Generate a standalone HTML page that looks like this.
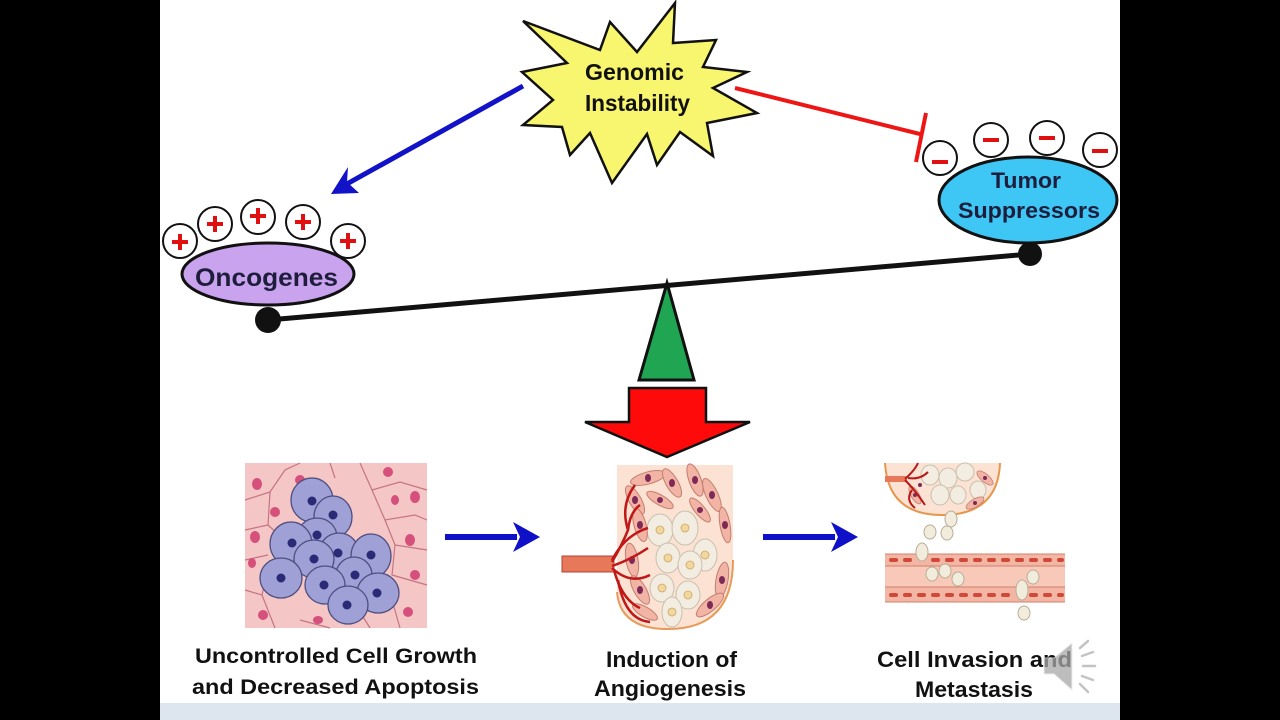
<!DOCTYPE html>
<html>
<head>
<meta charset="utf-8">
<style>
html,body{margin:0;padding:0;background:#000;}
svg{display:block;}
text{font-family:"Liberation Sans",Arial,sans-serif;font-weight:bold;}
</style>
</head>
<body>
<svg width="1280" height="720" viewBox="0 0 1280 720" xmlns="http://www.w3.org/2000/svg">
<rect x="0" y="0" width="1280" height="720" fill="#000"/>
<rect x="160" y="0" width="960" height="720" fill="#fff"/>
<rect x="160" y="703" width="960" height="17" fill="#dde5ee"/>

<!-- blue diagonal arrow -->
<line x1="523" y1="86" x2="345" y2="185" stroke="#1212c8" stroke-width="5"/>
<polygon points="331,194 348,167 347,182 359,193" fill="#1212c8"/>

<!-- red inhibit line -->
<line x1="735" y1="88" x2="920" y2="134" stroke="#ee1515" stroke-width="4"/>
<line x1="926" y1="113" x2="916" y2="162" stroke="#ee1515" stroke-width="4"/>

<!-- star -->
<polygon points="675,3 673,43 716,40 703,67 747,72 713,88 757,113 707,123 713,156 680,132 657,165 647,134 612,183 590,133 570,155 562,127 523,125 553,100 522,72 567,63 523,21 600,50 610,22 637,52" fill="#f8f56e" stroke="#111" stroke-width="2.5" stroke-linejoin="miter"/>
<text x="585" y="80" font-size="23" textLength="99" lengthAdjust="spacingAndGlyphs" fill="#111">Genomic</text>
<text x="585" y="111" font-size="23" textLength="105" lengthAdjust="spacingAndGlyphs" fill="#111">Instability</text>

<!-- beam -->
<line x1="268" y1="320" x2="1030" y2="254" stroke="#111" stroke-width="5"/>
<circle cx="268" cy="320" r="13" fill="#111"/>
<circle cx="1030" cy="254" r="12" fill="#111"/>

<!-- Oncogenes -->
<ellipse cx="268" cy="274" rx="86" ry="31" fill="#c9a3ee" stroke="#111" stroke-width="3"/>
<text x="195" y="286" font-size="25" textLength="143" lengthAdjust="spacingAndGlyphs" fill="#1e1e3c">Oncogenes</text>
<g fill="#fff" stroke="#111" stroke-width="2">
<circle cx="180" cy="241" r="17"/>
<circle cx="215" cy="224" r="17"/>
<circle cx="258" cy="217" r="17"/>
<circle cx="303" cy="222" r="17"/>
<circle cx="348" cy="241" r="17"/>
</g>
<g stroke="#e01010" stroke-width="4">
<line x1="172" y1="242" x2="188" y2="242"/><line x1="180" y1="234" x2="180" y2="250"/>
<line x1="207" y1="224" x2="223" y2="224"/><line x1="215" y1="216" x2="215" y2="232"/>
<line x1="250" y1="216" x2="266" y2="216"/><line x1="258" y1="208" x2="258" y2="224"/>
<line x1="295" y1="222" x2="311" y2="222"/><line x1="303" y1="214" x2="303" y2="230"/>
<line x1="340" y1="241" x2="356" y2="241"/><line x1="348" y1="233" x2="348" y2="249"/>
</g>

<!-- Tumor suppressors -->
<g fill="#fff" stroke="#111" stroke-width="2">
<circle cx="940" cy="158" r="17"/>
<circle cx="991" cy="140" r="17"/>
<circle cx="1047" cy="138" r="17"/>
<circle cx="1100" cy="150" r="17"/>
</g>
<ellipse cx="1028" cy="200" rx="89" ry="43" fill="#3ec6f5" stroke="#111" stroke-width="3"/>
<g stroke="#e01010" stroke-width="4">
<line x1="932" y1="162" x2="948" y2="162"/>
<line x1="983" y1="140" x2="999" y2="140"/>
<line x1="1039" y1="138" x2="1055" y2="138"/>
<line x1="1092" y1="151" x2="1108" y2="151"/>
</g>
<text x="991" y="188" font-size="22" textLength="70" lengthAdjust="spacingAndGlyphs" fill="#1e1e3c">Tumor</text>
<text x="958" y="218" font-size="22" textLength="142" lengthAdjust="spacingAndGlyphs" fill="#1e1e3c">Suppressors</text>

<!-- green triangle -->
<polygon points="667,283 639,380 694,380" fill="#20a653" stroke="#111" stroke-width="3" stroke-linejoin="miter"/>
<!-- red arrow -->
<polygon points="629,388 706,388 706,422 750,422 667,457 585,422 629,422" fill="#ff0a0a" stroke="#111" stroke-width="2.5"/>

<!-- Image 1: cells -->
<g>
<rect x="245" y="463" width="182" height="165" fill="#f5c6c6"/>
<g fill="none" stroke="#c57482" stroke-width="1.2">
<path d="M245,500 L270,492 L285,470 L300,463"/>
<path d="M270,492 L268,525 L245,530"/>
<path d="M268,525 L290,545"/>
<path d="M245,590 L262,595 L275,628"/>
<path d="M262,595 L270,560"/>
<path d="M360,463 L372,490 L400,482 L427,490"/>
<path d="M372,490 L385,520 L415,515 L427,520"/>
<path d="M385,520 L395,545 L427,550"/>
<path d="M395,545 L392,575 L427,585"/>
<path d="M392,600 L400,628"/>
<path d="M330,463 L335,478"/>
<path d="M300,620 L330,628"/>
<path d="M360,612 L370,628"/>
<path d="M245,560 L268,555"/>
</g>
<g fill="#d6507c">
<ellipse cx="257" cy="484" rx="5" ry="6"/>
<ellipse cx="300" cy="480" rx="5" ry="5"/>
<ellipse cx="388" cy="472" rx="5" ry="5"/>
<ellipse cx="415" cy="497" rx="5" ry="6"/>
<ellipse cx="275" cy="512" rx="5" ry="5"/>
<ellipse cx="255" cy="537" rx="5" ry="6"/>
<ellipse cx="410" cy="540" rx="5" ry="6"/>
<ellipse cx="415" cy="575" rx="5" ry="5"/>
<ellipse cx="252" cy="563" rx="4" ry="5"/>
<ellipse cx="263" cy="615" rx="5" ry="5"/>
<ellipse cx="318" cy="620" rx="5" ry="4"/>
<ellipse cx="408" cy="612" rx="5" ry="5"/>
<ellipse cx="395" cy="500" rx="4" ry="5"/>
</g>
<g fill="#9ea0d6" stroke="#4e4e80" stroke-width="1.3">
<ellipse cx="312" cy="500" rx="21" ry="22"/>
<ellipse cx="333" cy="517" rx="19" ry="21"/>
<ellipse cx="317" cy="537" rx="20" ry="19"/>
<ellipse cx="291" cy="544" rx="21" ry="22"/>
<ellipse cx="339" cy="553" rx="20" ry="20"/>
<ellipse cx="314" cy="559" rx="20" ry="19"/>
<ellipse cx="371" cy="556" rx="20" ry="22"/>
<ellipse cx="354" cy="575" rx="18" ry="18"/>
<ellipse cx="281" cy="578" rx="21" ry="20"/>
<ellipse cx="325" cy="585" rx="20" ry="19"/>
<ellipse cx="378" cy="593" rx="21" ry="20"/>
<ellipse cx="348" cy="605" rx="20" ry="19"/>
</g>
<g fill="#2a2a76">
<circle cx="312" cy="501" r="4.5"/>
<circle cx="333" cy="515" r="4.5"/>
<circle cx="317" cy="535" r="4.5"/>
<circle cx="292" cy="543" r="4.5"/>
<circle cx="338" cy="553" r="4.5"/>
<circle cx="314" cy="559" r="4.5"/>
<circle cx="371" cy="555" r="4.5"/>
<circle cx="355" cy="575" r="4.5"/>
<circle cx="281" cy="578" r="4.5"/>
<circle cx="324" cy="585" r="4.5"/>
<circle cx="377" cy="593" r="4.5"/>
<circle cx="347" cy="605" r="4.5"/>
</g>
</g>

<!-- Image 2: angiogenesis -->
<g>
<path d="M617,465 L733,465 L733,560 Q733,629 668,629 Q620,629 617,592 Z" fill="#fbe2d2"/>
<path d="M617,592 Q620,629 668,629 Q733,629 733,560" fill="none" stroke="#e89a5a" stroke-width="2"/>
<g fill="#f3ece0" stroke="#c9bfae" stroke-width="1">
<ellipse cx="660" cy="530" rx="13" ry="16"/>
<ellipse cx="685" cy="528" rx="13" ry="17"/>
<ellipse cx="705" cy="555" rx="12" ry="16"/>
<ellipse cx="668" cy="558" rx="12" ry="15"/>
<ellipse cx="690" cy="565" rx="12" ry="14"/>
<ellipse cx="662" cy="588" rx="12" ry="14"/>
<ellipse cx="688" cy="595" rx="12" ry="14"/>
<ellipse cx="672" cy="612" rx="10" ry="15"/>
</g>
<g fill="#f3d69c" stroke="#c8a870" stroke-width="0.8">
<circle cx="660" cy="530" r="4"/><circle cx="685" cy="528" r="4"/><circle cx="705" cy="555" r="4"/>
<circle cx="668" cy="558" r="4"/><circle cx="690" cy="565" r="4"/><circle cx="662" cy="588" r="4"/>
<circle cx="688" cy="595" r="4"/><circle cx="672" cy="612" r="4"/>
</g>
<g fill="#f2b4a4" stroke="#c47e70" stroke-width="1">
<ellipse cx="648" cy="478" rx="18" ry="6" transform="rotate(-15 648 478)"/>
<ellipse cx="672" cy="483" rx="16" ry="6" transform="rotate(60 672 483)"/>
<ellipse cx="695" cy="480" rx="17" ry="6" transform="rotate(70 695 480)"/>
<ellipse cx="712" cy="495" rx="18" ry="6" transform="rotate(65 712 495)"/>
<ellipse cx="725" cy="525" rx="18" ry="5" transform="rotate(80 725 525)"/>
<ellipse cx="635" cy="500" rx="16" ry="6" transform="rotate(60 635 500)"/>
<ellipse cx="640" cy="525" rx="17" ry="6" transform="rotate(75 640 525)"/>
<ellipse cx="632" cy="560" rx="17" ry="6" transform="rotate(80 632 560)"/>
<ellipse cx="640" cy="590" rx="16" ry="6" transform="rotate(60 640 590)"/>
<ellipse cx="722" cy="580" rx="18" ry="6" transform="rotate(100 722 580)"/>
<ellipse cx="710" cy="605" rx="17" ry="6" transform="rotate(140 710 605)"/>
<ellipse cx="660" cy="500" rx="15" ry="5" transform="rotate(30 660 500)"/>
<ellipse cx="700" cy="510" rx="15" ry="5" transform="rotate(50 700 510)"/>
<ellipse cx="645" cy="612" rx="14" ry="5" transform="rotate(30 645 612)"/>
</g>
<g fill="#7e2a58">
<ellipse cx="648" cy="478" rx="3" ry="4"/><ellipse cx="672" cy="483" rx="3" ry="4"/>
<ellipse cx="695" cy="480" rx="3" ry="4"/><ellipse cx="712" cy="495" rx="3" ry="4"/>
<ellipse cx="725" cy="525" rx="3" ry="4"/><ellipse cx="635" cy="500" rx="3" ry="4"/>
<ellipse cx="640" cy="525" rx="3" ry="4"/><ellipse cx="632" cy="560" rx="3" ry="4"/>
<ellipse cx="640" cy="590" rx="3" ry="4"/><ellipse cx="722" cy="580" rx="3" ry="4"/>
<ellipse cx="710" cy="605" rx="3" ry="4"/><ellipse cx="660" cy="500" rx="3" ry="3"/>
<ellipse cx="700" cy="510" rx="3" ry="3"/>
</g>
<rect x="562" y="556" width="52" height="16" fill="#e8785a" stroke="#b04530" stroke-width="1"/>
<g fill="none" stroke="#c01818" stroke-width="2.5">
<path d="M612,562 Q622,545 628,530 Q630,512 640,505"/>
<path d="M628,530 Q620,505 635,485"/>
<path d="M612,566 Q630,560 648,548"/>
<path d="M612,568 Q630,585 650,575"/>
<path d="M614,570 Q622,600 640,608"/>
<path d="M618,580 Q625,620 650,622"/>
<path d="M612,560 Q625,535 648,528"/>
</g>
</g>

<!-- Image 3: invasion -->
<g>
<path d="M885,463 L1000,463 Q998,515 942,515 Q888,515 885,463 Z" fill="#fbe2d2"/>
<path d="M1000,463 Q998,515 942,515 Q888,515 885,463" fill="none" stroke="#e8964e" stroke-width="2"/>
<g fill="#f3ece0" stroke="#c9bfae" stroke-width="1">
<ellipse cx="930" cy="475" rx="9" ry="10"/><ellipse cx="948" cy="478" rx="9" ry="10"/>
<ellipse cx="965" cy="472" rx="9" ry="9"/><ellipse cx="940" cy="495" rx="9" ry="10"/>
<ellipse cx="958" cy="495" rx="8" ry="9"/><ellipse cx="978" cy="490" rx="8" ry="9"/>
</g>
<g fill="#f2b4a4" stroke="#c47e70" stroke-width="0.8">
<ellipse cx="985" cy="478" rx="10" ry="4" transform="rotate(40 985 478)"/>
<ellipse cx="915" cy="495" rx="10" ry="4" transform="rotate(60 915 495)"/>
<ellipse cx="975" cy="503" rx="10" ry="4" transform="rotate(-30 975 503)"/>
</g>
<g fill="#7e2a58"><circle cx="985" cy="478" r="2"/><circle cx="915" cy="495" r="2"/><circle cx="920" cy="485" r="2"/><circle cx="975" cy="503" r="2"/></g>
<rect x="885" y="476" width="22" height="6" fill="#e8785a"/>
<g fill="none" stroke="#b81818" stroke-width="2">
<path d="M905,479 Q915,470 918,463"/><path d="M905,480 Q915,490 925,505"/><path d="M908,478 Q920,480 928,472"/><path d="M912,490 Q905,500 915,508"/>
</g>
<!-- vessel -->
<rect x="885" y="554" width="180" height="48" fill="#f4b6a4"/>
<rect x="885" y="566" width="180" height="21" fill="#f8c9b8"/>
<g stroke="#d0806c" stroke-width="1">
<line x1="885" y1="554" x2="1065" y2="554"/><line x1="885" y1="566" x2="1065" y2="566"/>
<line x1="885" y1="587" x2="1065" y2="587"/><line x1="885" y1="602" x2="1065" y2="602"/>
</g>
<g fill="#d04838">
<rect x="889" y="558" width="9" height="4" rx="2"/><rect x="903" y="558" width="9" height="4" rx="2"/>
<rect x="931" y="558" width="9" height="4" rx="2"/><rect x="945" y="558" width="9" height="4" rx="2"/>
<rect x="959" y="558" width="9" height="4" rx="2"/><rect x="973" y="558" width="9" height="4" rx="2"/>
<rect x="987" y="558" width="9" height="4" rx="2"/><rect x="1001" y="558" width="9" height="4" rx="2"/>
<rect x="1015" y="558" width="9" height="4" rx="2"/><rect x="1029" y="558" width="9" height="4" rx="2"/>
<rect x="1043" y="558" width="9" height="4" rx="2"/><rect x="1057" y="558" width="7" height="4" rx="2"/>
<rect x="889" y="593" width="9" height="4" rx="2"/><rect x="903" y="593" width="9" height="4" rx="2"/>
<rect x="917" y="593" width="9" height="4" rx="2"/><rect x="931" y="593" width="9" height="4" rx="2"/>
<rect x="945" y="593" width="9" height="4" rx="2"/><rect x="959" y="593" width="9" height="4" rx="2"/>
<rect x="973" y="593" width="9" height="4" rx="2"/><rect x="987" y="593" width="9" height="4" rx="2"/>
<rect x="1001" y="593" width="9" height="4" rx="2"/><rect x="1029" y="593" width="9" height="4" rx="2"/>
<rect x="1043" y="593" width="9" height="4" rx="2"/><rect x="1057" y="593" width="7" height="4" rx="2"/>
</g>
<g fill="#f1ecdc" stroke="#b8ad98" stroke-width="1">
<ellipse cx="951" cy="519" rx="6" ry="8"/><ellipse cx="930" cy="532" rx="6" ry="7"/>
<ellipse cx="947" cy="533" rx="6" ry="7"/><ellipse cx="922" cy="552" rx="6" ry="9"/>
<ellipse cx="932" cy="574" rx="6" ry="7"/><ellipse cx="945" cy="571" rx="6" ry="7"/>
<ellipse cx="958" cy="579" rx="6" ry="7"/><ellipse cx="1033" cy="577" rx="6" ry="7"/>
<ellipse cx="1022" cy="590" rx="6" ry="10"/><ellipse cx="1024" cy="613" rx="6" ry="7"/>
</g>
</g>

<!-- horizontal blue arrows -->
<rect x="445" y="534" width="72" height="6" fill="#1010c8"/>
<polygon points="540,537 513,522 520,537 513,552" fill="#1010c8"/>
<rect x="763" y="534" width="72" height="6" fill="#1010c8"/>
<polygon points="858,537 831,522 838,537 831,552" fill="#1010c8"/>

<!-- bottom labels -->
<g fill="#111">
<text x="195" y="663" font-size="21" textLength="282" lengthAdjust="spacingAndGlyphs">Uncontrolled Cell Growth</text>
<text x="192" y="694" font-size="21" textLength="287" lengthAdjust="spacingAndGlyphs">and Decreased Apoptosis</text>
<text x="606" y="667" font-size="22" textLength="131" lengthAdjust="spacingAndGlyphs">Induction of</text>
<text x="594" y="696" font-size="22" textLength="152" lengthAdjust="spacingAndGlyphs">Angiogenesis</text>
<text x="877" y="667" font-size="22" textLength="195" lengthAdjust="spacingAndGlyphs">Cell Invasion and</text>
<text x="915" y="697" font-size="22" textLength="118" lengthAdjust="spacingAndGlyphs">Metastasis</text>
</g>

<!-- speaker icon -->
<g opacity="0.75">
<polygon points="1044,658 1054,658 1072,643 1072,690 1054,674 1044,674" fill="#a8a8a8" stroke="#e8e8e8" stroke-width="1"/>
<g stroke="#b0b0b0" stroke-width="2.5" stroke-linecap="round" fill="none">
<line x1="1080" y1="648" x2="1088" y2="641"/>
<line x1="1082" y1="656" x2="1093" y2="652"/>
<line x1="1083" y1="666" x2="1095" y2="666"/>
<line x1="1082" y1="676" x2="1093" y2="680"/>
<line x1="1080" y1="684" x2="1088" y2="692"/>
</g>
</g>
</svg>
</body>
</html>
